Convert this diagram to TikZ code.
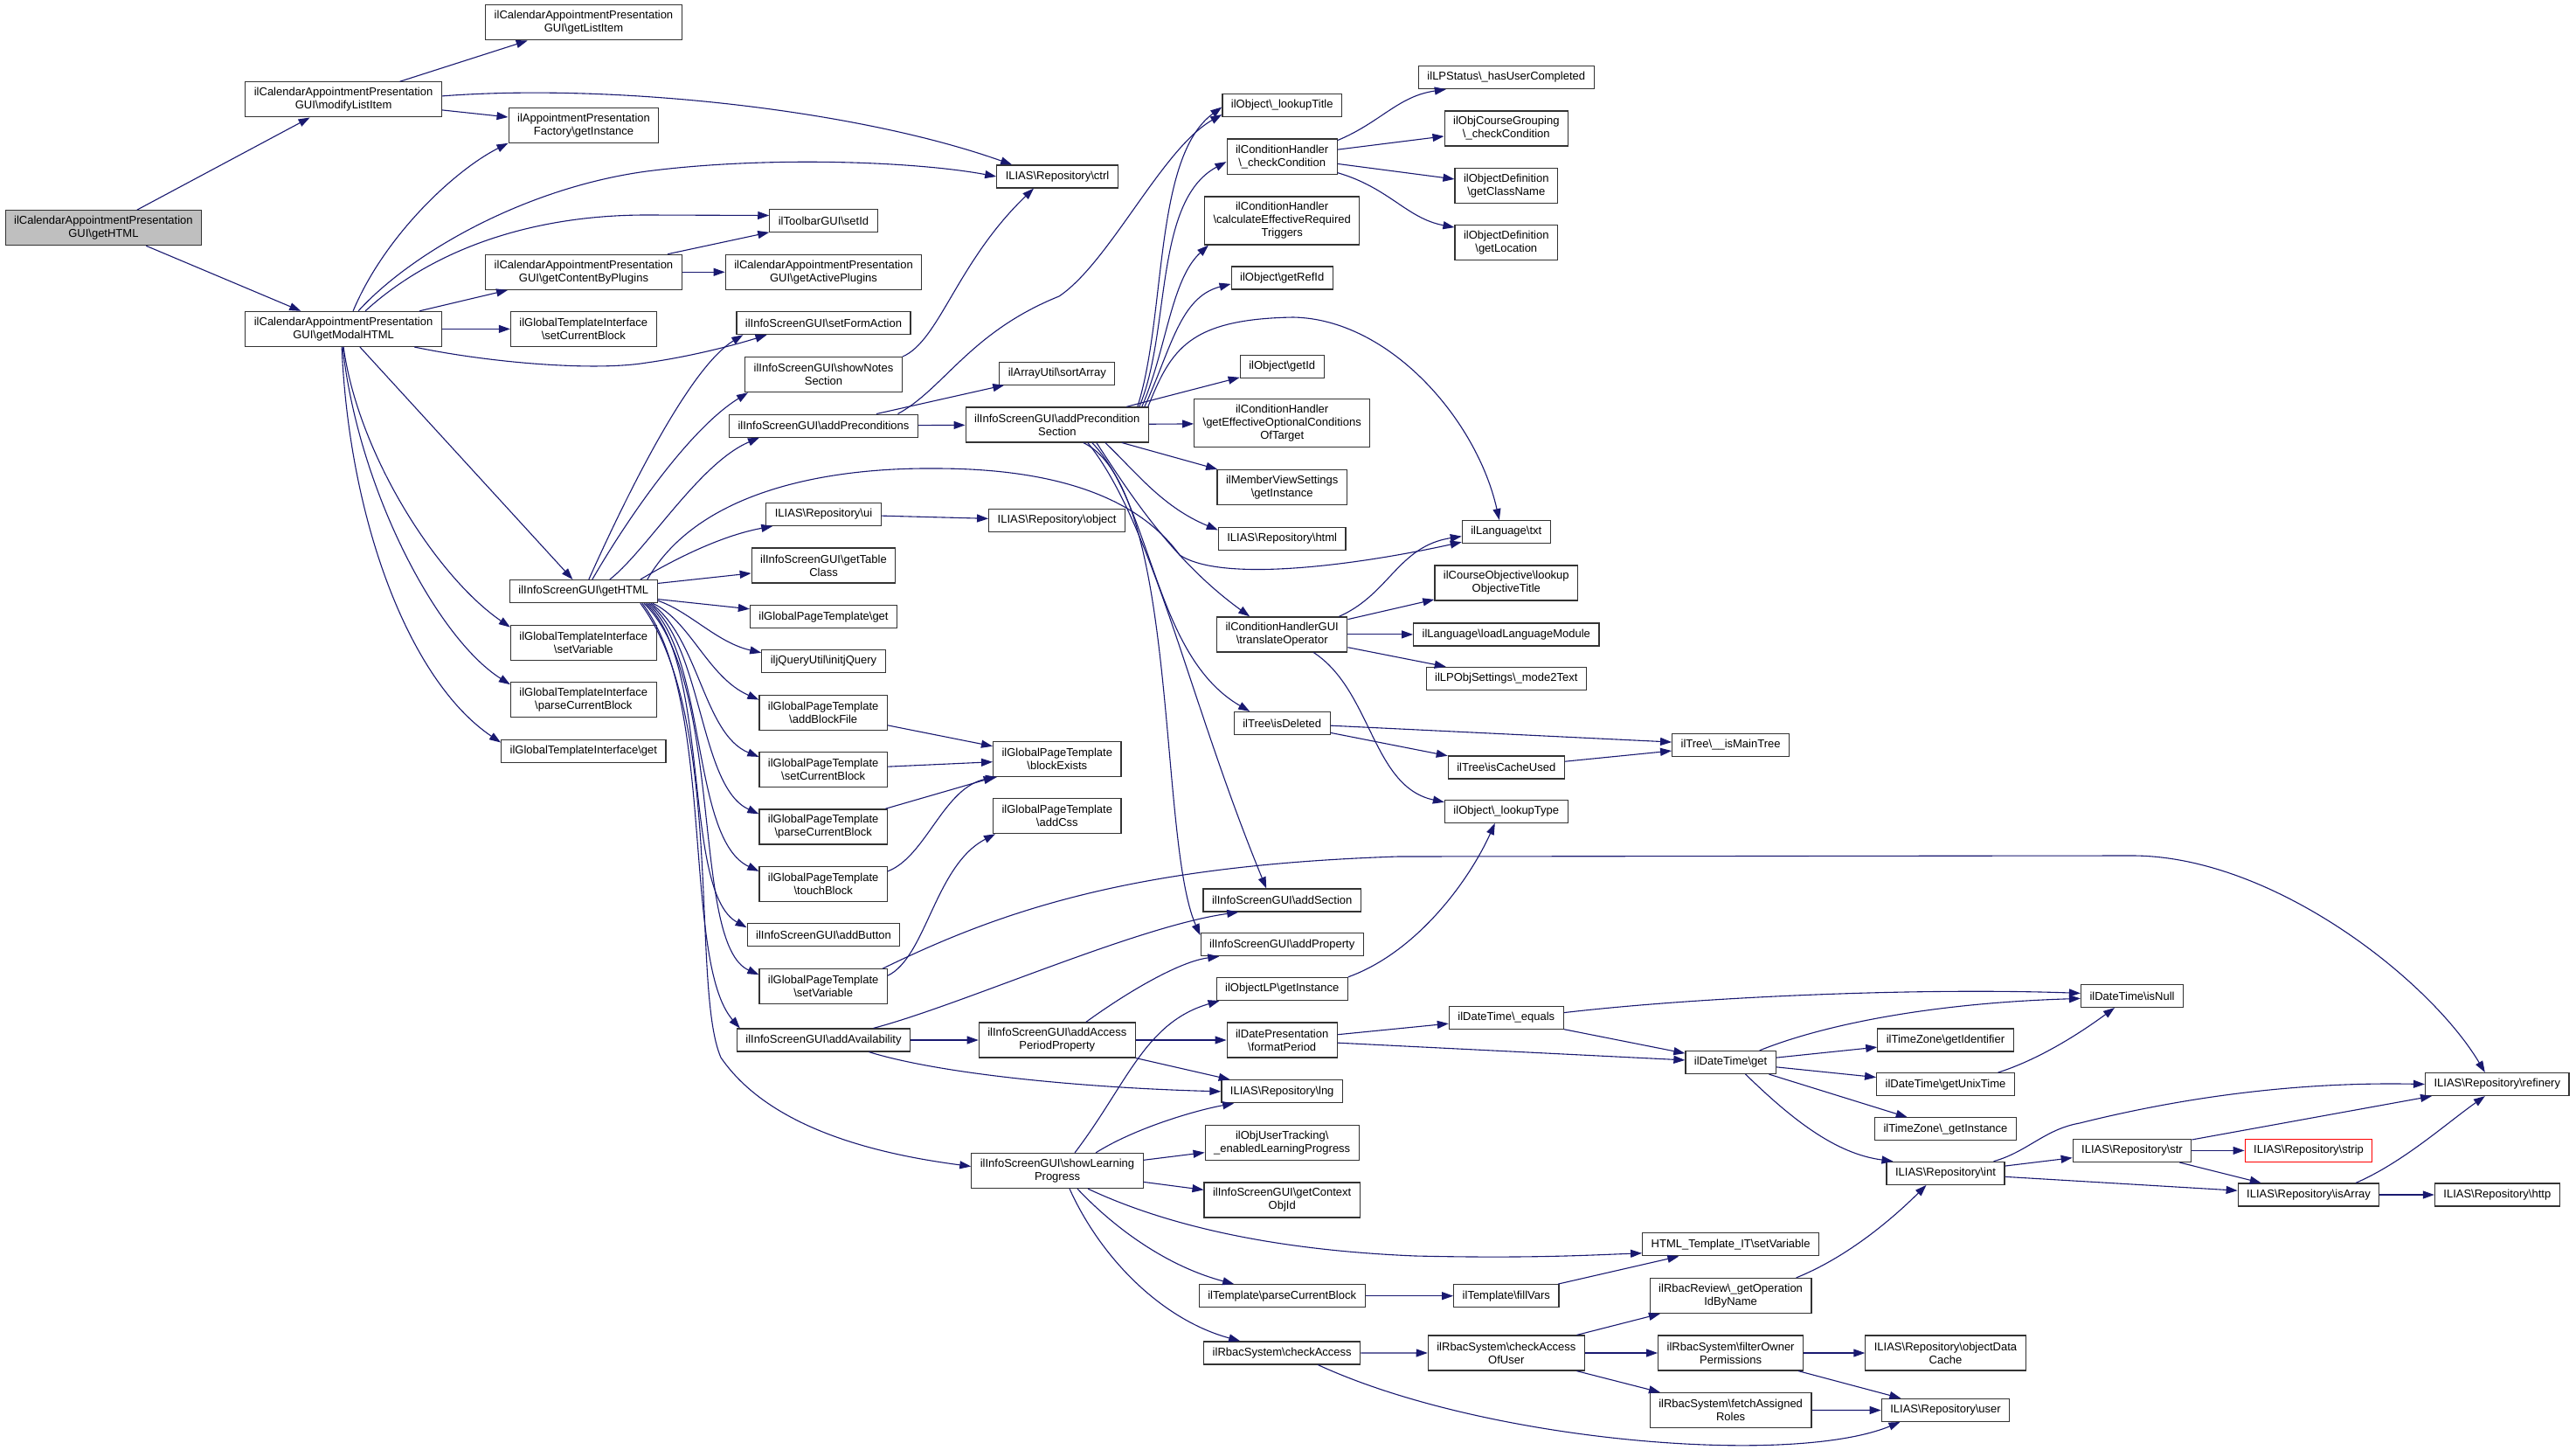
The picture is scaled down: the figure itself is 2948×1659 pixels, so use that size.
\documentclass[tikz,border=0pt]{standalone}
\usepackage{fontspec}
\setmainfont{Liberation Sans}
\usepackage{tikz}
\usetikzlibrary{arrows.meta}
\usepackage{xcolor}
\definecolor{edgeblue}{HTML}{191970}
\definecolor{boxgray}{HTML}{BFBFBF}
\newcommand{\bsl}{\textbackslash}

\begin{document}
\begin{tikzpicture}[x=1pt, y=-1pt,
    fn/.style={draw=black!80, line width=1.2pt, fill=white, align=center, font=\fontsize{13}{15}\selectfont, inner xsep=10pt, inner ysep=2pt, minimum height=26pt},
    fn2/.style={fn, minimum height=40pt},
    fn3/.style={fn, minimum height=55pt},
    rootfn/.style={fn2, fill=boxgray},
    redfn/.style={fn, draw=red},
    call/.style={draw=edgeblue, line width=1.1pt, -{Triangle[length=13pt, width=9pt]}}]
        \useasboundingbox (0,0) rectangle (2948,1659);

        \node[rootfn] (root) at (118.4, 260.7) {ilCalendarAppointmentPresentation\\GUI\bsl{}getHTML};

        \node[fn2] (modifyListItem) at (393.1, 113.9) {ilCalendarAppointmentPresentation\\GUI\bsl{}modifyListItem};
        \node[fn2] (getModalHTML) at (393.1, 376.4) {ilCalendarAppointmentPresentation\\GUI\bsl{}getModalHTML};

        \node[fn2] (getListItem) at (668, 25.9) {ilCalendarAppointmentPresentation\\GUI\bsl{}getListItem};
        \node[fn2] (factory) at (668, 143.2) {ilAppointmentPresentation\\Factory\bsl{}getInstance};
        \node[fn2] (getContent) at (668, 311.3) {ilCalendarAppointmentPresentation\\GUI\bsl{}getContentByPlugins};
        \node[fn2] (tiSetBlock) at (667.8, 376.4) {ilGlobalTemplateInterface\\\bsl{}setCurrentBlock};
        \node[fn] (isHTML) at (667.8, 676.6) {ilInfoScreenGUI\bsl{}getHTML};
        \node[fn2] (tiSetVar) at (667.8, 735.2) {ilGlobalTemplateInterface\\\bsl{}setVariable};
        \node[fn2] (tiParse) at (667.8, 800.8) {ilGlobalTemplateInterface\\\bsl{}parseCurrentBlock};
        \node[fn] (tiGet) at (667.8, 859.1) {ilGlobalTemplateInterface\bsl{}get};

        \node[fn] (setId) at (942.5, 252.5) {ilToolbarGUI\bsl{}setId};
        \node[fn2] (getActive) at (942.5, 311.3) {ilCalendarAppointmentPresentation\\GUI\bsl{}getActivePlugins};
        \node[fn] (setForm) at (942.5, 369.6) {ilInfoScreenGUI\bsl{}setFormAction};
        \node[fn2] (showNotes) at (942.5, 428.6) {ilInfoScreenGUI\bsl{}showNotes\\Section};
        \node[fn] (addPrec) at (942.5, 487.1) {ilInfoScreenGUI\bsl{}addPreconditions};
        \node[fn] (ui) at (942.5, 588.4) {ILIAS\bsl{}Repository\bsl{}ui};
        \node[fn2] (getTableClass) at (942.5, 647) {ilInfoScreenGUI\bsl{}getTable\\Class};
        \node[fn] (gptGet) at (942.5, 705.7) {ilGlobalPageTemplate\bsl{}get};
        \node[fn] (initjQuery) at (942.5, 756.4) {iljQueryUtil\bsl{}initjQuery};
        \node[fn2] (addBlockFile) at (942.2, 815.2) {ilGlobalPageTemplate\\\bsl{}addBlockFile};
        \node[fn2] (gptSetBlock) at (942.2, 880.5) {ilGlobalPageTemplate\\\bsl{}setCurrentBlock};
        \node[fn2] (gptParse) at (942.2, 945.9) {ilGlobalPageTemplate\\\bsl{}parseCurrentBlock};
        \node[fn2] (touchBlock) at (942.2, 1011.4) {ilGlobalPageTemplate\\\bsl{}touchBlock};
        \node[fn] (addButton) at (942.5, 1069.8) {ilInfoScreenGUI\bsl{}addButton};
        \node[fn2] (gptSetVar) at (942.2, 1128.8) {ilGlobalPageTemplate\\\bsl{}setVariable};
        \node[fn] (addAvailability) at (942.5, 1190) {ilInfoScreenGUI\bsl{}addAvailability};

        \node[fn] (ctrl) at (1210, 202) {ILIAS\bsl{}Repository\bsl{}ctrl};
        \node[fn] (sortArray) at (1209.8, 427.1) {ilArrayUtil\bsl{}sortArray};
        \node[fn2] (aps) at (1209.8, 485.9) {ilInfoScreenGUI\bsl{}addPrecondition\\Section};
        \node[fn] (object) at (1209.6, 595.4) {ILIAS\bsl{}Repository\bsl{}object};
        \node[fn2] (blockExists) at (1209.8, 868.4) {ilGlobalPageTemplate\\\bsl{}blockExists};
        \node[fn2] (addCss) at (1209.8, 933.7) {ilGlobalPageTemplate\\\bsl{}addCss};
        \node[fn2] (aapp) at (1209.8, 1190) {ilInfoScreenGUI\bsl{}addAccess\\PeriodProperty};
        \node[fn2] (slp) at (1210, 1339.5) {ilInfoScreenGUI\bsl{}showLearning\\Progress};

        \node[fn] (lookupTitle) at (1467.2, 120.5) {ilObject\bsl\_lookupTitle};
        \node[fn2] (checkCond) at (1467.2, 179.1) {ilConditionHandler\\\bsl\_checkCondition};
        \node[fn3] (calcEff) at (1467.2, 252.5) {ilConditionHandler\\\bsl{}calculateEffectiveRequired\\Triggers};
        \node[fn] (getRefId) at (1467.2, 317.9) {ilObject\bsl{}getRefId};
        \node[fn] (getId) at (1467.2, 419.3) {ilObject\bsl{}getId};
        \node[fn3] (getEffOpt) at (1467.2, 484.3) {ilConditionHandler\\\bsl{}getEffectiveOptionalConditions\\OfTarget};
        \node[fn2] (memberView) at (1467.2, 557.5) {ilMemberViewSettings\\\bsl{}getInstance};
        \node[fn] (html) at (1467.2, 616.4) {ILIAS\bsl{}Repository\bsl{}html};
        \node[fn2] (translateOp) at (1467.2, 725.9) {ilConditionHandlerGUI\\\bsl{}translateOperator};
        \node[fn] (isDeleted) at (1467.2, 827.5) {ilTree\bsl{}isDeleted};
        \node[fn] (addSection) at (1467.2, 1030) {ilInfoScreenGUI\bsl{}addSection};
        \node[fn] (addProperty) at (1467.2, 1080.7) {ilInfoScreenGUI\bsl{}addProperty};
        \node[fn] (objectLP) at (1467.2, 1131.4) {ilObjectLP\bsl{}getInstance};
        \node[fn2] (formatPeriod) at (1467.2, 1190) {ilDatePresentation\\\bsl{}formatPeriod};
        \node[fn] (lng) at (1467.2, 1248.8) {ILIAS\bsl{}Repository\bsl{}lng};
        \node[fn2] (userTracking) at (1467.2, 1307.7) {ilObjUserTracking\bsl\\\_enabledLearningProgress};
        \node[fn2] (contextObjId) at (1467.2, 1373) {ilInfoScreenGUI\bsl{}getContext\\ObjId};
        \node[fn] (tplParse) at (1467.2, 1482.7) {ilTemplate\bsl{}parseCurrentBlock};
        \node[fn] (checkAccess) at (1467.2, 1547.9) {ilRbacSystem\bsl{}checkAccess};

        \node[fn] (hasUser) at (1723.8, 88.6) {ilLPStatus\bsl\_hasUserCompleted};
        \node[fn2] (courseGrouping) at (1723.8, 147) {ilObjCourseGrouping\\\bsl\_checkCondition};
        \node[fn2] (getClassName) at (1723.8, 212.7) {ilObjectDefinition\\\bsl{}getClassName};
        \node[fn2] (getLocation) at (1723.8, 277.7) {ilObjectDefinition\\\bsl{}getLocation};
        \node[fn] (txt) at (1723.8, 608.6) {ilLanguage\bsl{}txt};
        \node[fn2] (courseObj) at (1723.8, 667) {ilCourseObjective\bsl{}lookup\\ObjectiveTitle};
        \node[fn] (loadLang) at (1723.8, 725.9) {ilLanguage\bsl{}loadLanguageModule};
        \node[fn] (mode2Text) at (1723.8, 776.4) {ilLPObjSettings\bsl\_mode2Text};
        \node[fn] (isCacheUsed) at (1723.8, 877.9) {ilTree\bsl{}isCacheUsed};
        \node[fn] (lookupType) at (1723.8, 928.4) {ilObject\bsl\_lookupType};
        \node[fn] (equals) at (1723.8, 1164.6) {ilDateTime\bsl\_equals};
        \node[fn] (fillVars) at (1723.8, 1482.7) {ilTemplate\bsl{}fillVars};
        \node[fn2] (checkAccessOfUser) at (1723.8, 1548) {ilRbacSystem\bsl{}checkAccess\\OfUser};

        \node[fn] (isMainTree) at (1980.6, 852.3) {ilTree\bsl\_\_isMainTree};
        \node[fn] (dtGet) at (1980.6, 1215.5) {ilDateTime\bsl{}get};
        \node[fn] (htmlSetVar) at (1980.6, 1423.8) {HTML\_Template\_IT\bsl{}setVariable};
        \node[fn2] (getOp) at (1980.6, 1482.5) {ilRbacReview\bsl\_getOperation\\IdByName};
        \node[fn2] (filterOwner) at (1980.6, 1548) {ilRbacSystem\bsl{}filterOwner\\Permissions};
        \node[fn2] (fetchAssigned) at (1980.6, 1613.6) {ilRbacSystem\bsl{}fetchAssigned\\Roles};

        \node[fn] (getIdentifier) at (2226.5, 1190) {ilTimeZone\bsl{}getIdentifier};
        \node[fn] (getUnixTime) at (2226.5, 1240.7) {ilDateTime\bsl{}getUnixTime};
        \node[fn] (tzInstance) at (2226.5, 1291.8) {ilTimeZone\bsl\_getInstance};
        \node[fn] (int) at (2226.5, 1342.3) {ILIAS\bsl{}Repository\bsl{}int};
        \node[fn2] (objectDataCache) at (2226.5, 1548) {ILIAS\bsl{}Repository\bsl{}objectData\\Cache};
        \node[fn] (user) at (2226.5, 1613.4) {ILIAS\bsl{}Repository\bsl{}user};

        \node[fn] (isNull) at (2440, 1139.4) {ilDateTime\bsl{}isNull};
        \node[fn] (str) at (2440, 1316.4) {ILIAS\bsl{}Repository\bsl{}str};
        \node[redfn] (strip) at (2642, 1316.4) {ILIAS\bsl{}Repository\bsl{}strip};
        \node[fn] (isArray) at (2642, 1367) {ILIAS\bsl{}Repository\bsl{}isArray};
        \node[fn] (refinery) at (2857.8, 1240.5) {ILIAS\bsl{}Repository\bsl{}refinery};
        \node[fn] (http) at (2857.8, 1367) {ILIAS\bsl{}Repository\bsl{}http};

        \draw[call] (root) -- (modifyListItem);
        \draw[call] (root) -- (getModalHTML);

        \draw[call] (modifyListItem) -- (getListItem);
        \draw[call] (modifyListItem) -- (factory);
        \draw[call] ([yshift=4pt]modifyListItem.east) .. controls (700,95) and (980,125) .. ([xshift=18pt]ctrl.north west);

        \draw[call] ([xshift=11pt]getModalHTML.north) .. controls (440,270) and (520,195) .. (factory.south west);
        \draw[call] ([xshift=17pt]getModalHTML.north) .. controls (470,290) and (600,215) .. (740,196) .. controls (880,178) and (1050,185) .. (ctrl.west);
        \draw[call] ([xshift=25pt]getModalHTML.north) .. controls (490,290) and (600,246) .. (740,246) -- ([yshift=6pt]setId.west);
        \draw[call] (getModalHTML) -- (getContent);
        \draw[call] (getModalHTML) -- (tiSetBlock);
        \draw[call] ([xshift=81pt]getModalHTML.south) .. controls (560,415) and (680,425) .. (740,415) .. controls (790,408) and (840,395) .. ([xshift=-65pt]setForm.south);
        \draw[call] (getModalHTML) -- (isHTML);
        \draw[call] (getModalHTML.south) .. controls (410,520) and (500,660) .. ([yshift=-3pt]tiSetVar.north west);
        \draw[call] ([xshift=-1pt]getModalHTML.south) .. controls (410,560) and (500,730) .. ([yshift=-3pt]tiParse.north west);
        \draw[call] ([xshift=-2pt]getModalHTML.south) .. controls (400,600) and (470,780) .. ([yshift=-4pt]tiGet.north west);

        \draw[call] (getContent) -- (setId);
        \draw[call] (getContent) -- (getActive);

        \draw[call] ([xshift=6pt]isHTML.north) .. controls (720,560) and (790,420) .. ([xshift=8pt]setForm.south west);
        \draw[call] ([xshift=10pt]isHTML.north) .. controls (720,590) and (790,490) .. ([xshift=4pt]showNotes.south west);
        \draw[call] ([xshift=30pt]isHTML.north) .. controls (740,630) and (800,530) .. ([xshift=35pt]addPrec.south west);
        \draw[call] ([xshift=-20pt]isHTML.north east) .. controls (780,635) and (830,612) .. ([xshift=8pt]ui.south west);
        \draw[call] ([xshift=-12pt]isHTML.north east) .. controls (800,560) and (950,535) .. (1070,536) .. controls (1230,536) and (1310,580) .. (1350,635) .. controls (1400,668) and (1560,645) .. ([yshift=2pt]txt.south west);
        \draw[call] (isHTML) -- (getTableClass);
        \draw[call] (isHTML) -- (gptGet);
        \draw[call] ([yshift=3pt]isHTML.south east) .. controls (790,700) and (820,735) .. ([yshift=-4pt]initjQuery.north west);
        \draw[call] ([xshift=-6pt]isHTML.south east) .. controls (790,710) and (810,775) .. ([yshift=-6pt]addBlockFile.north west);
        \draw[call] ([xshift=-8pt]isHTML.south east) .. controls (800,730) and (805,840) .. ([yshift=-6pt]gptSetBlock.north west);
        \draw[call] ([xshift=-10pt]isHTML.south east) .. controls (805,740) and (800,900) .. ([yshift=-6pt]gptParse.north west);
        \draw[call] ([xshift=-12pt]isHTML.south east) .. controls (810,750) and (790,960) .. ([yshift=-6pt]touchBlock.north west);
        \draw[call] ([xshift=-14pt]isHTML.south east) .. controls (815,760) and (780,1020) .. ([yshift=-5pt]addButton.north west);
        \draw[call] ([xshift=-16pt]isHTML.south east) .. controls (830,780) and (790,1080) .. ([yshift=-7pt]gptSetVar.north west);
        \draw[call] ([xshift=-18pt]isHTML.south east) .. controls (820,800) and (780,1100) .. ([xshift=4pt]addAvailability.north west);
        \draw[call] ([xshift=-20pt]isHTML.south east) .. controls (830,820) and (790,1130) .. (825,1210) .. controls (880,1290) and (1000,1320) .. ([yshift=5pt]slp.west);

        \draw[call] (ui) -- (object);
        \draw[call] (showNotes.north east) .. controls (1075,390) and (1095,300) .. ([xshift=-27pt]ctrl.south);
        \draw[call] (addPrec) -- (sortArray);
        \draw[call] (addPrec) -- (aps);
        \draw[call] ([xshift=85pt]addPrec.north) .. controls (1080,445) and (1110,380) .. (1212,339) .. controls (1270,300) and (1330,170) .. ([yshift=3pt]lookupTitle.south west);

        \draw[call] ([xshift=92pt]aps.north) .. controls (1335,360) and (1320,180) .. ([yshift=-2pt]lookupTitle.west);
        \draw[call] ([xshift=94pt]aps.north) .. controls (1340,380) and (1320,230) .. ([yshift=-6pt]checkCond.west);
        \draw[call] ([xshift=97pt]aps.north) .. controls (1335,400) and (1340,320) .. ([xshift=5pt]calcEff.south west);
        \draw[call] ([xshift=100pt]aps.north) .. controls (1340,400) and (1350,340) .. ([yshift=-7pt]getRefId.west);
        \draw[call] ([xshift=104pt]aps.north) .. controls (1340,400) and (1360,365) .. (1480,363) .. controls (1590,365) and (1690,480) .. ([xshift=-8pt]txt.north);
        \draw[call] (aps) -- (getId);
        \draw[call] (aps) -- (getEffOpt);
        \draw[call] (aps) -- (memberView);
        \draw[call] ([xshift=55pt]aps.south) .. controls (1300,540) and (1330,580) .. ([yshift=10pt]html.west);
        \draw[call] ([xshift=45pt]aps.south) .. controls (1290,560) and (1340,640) .. ([xshift=-37pt]translateOp.north);
        \draw[call] ([xshift=40pt]aps.south) .. controls (1320,580) and (1320,750) .. ([xshift=-37pt]isDeleted.north);
        \draw[call] ([xshift=35pt]aps.south) .. controls (1320,600) and (1360,800) .. ([xshift=-18pt]addSection.north);
        \draw[call] ([xshift=30pt]aps.south) .. controls (1350,560) and (1325,960) .. ([yshift=-3pt]addProperty.north west);

        \draw[call] ([yshift=-2pt]checkCond.north east) .. controls (1580,140) and (1600,110) .. ([xshift=-69pt]hasUser.south);
        \draw[call] (checkCond) -- (courseGrouping);
        \draw[call] (checkCond) -- (getClassName);
        \draw[call] ([yshift=2pt]checkCond.south east) .. controls (1590,215) and (1610,250) .. ([yshift=-3pt]getLocation.north west);

        \draw[call] ([xshift=-10pt]translateOp.north east) .. controls (1590,680) and (1600,625) .. ([yshift=-5pt]txt.west);
        \draw[call] (translateOp) -- (courseObj);
        \draw[call] (translateOp) -- (loadLang);
        \draw[call] (translateOp) -- (mode2Text);
        \draw[call] ([xshift=36pt]translateOp.south) .. controls (1570,790) and (1570,900) .. ([yshift=-3pt]lookupType.north west);

        \draw[call] (isDeleted) -- (isMainTree);
        \draw[call] (isDeleted) -- (isCacheUsed);
        \draw[call] (isCacheUsed) -- (isMainTree);
        \draw[call] (objectLP.north east) .. controls (1620,1090) and (1680,1010) .. ([xshift=-13pt]lookupType.south);

        \draw[call] (addAvailability) -- (aapp);
        \draw[call] ([xshift=57pt]addAvailability.north) .. controls (1100,1150) and (1300,1060) .. ([xshift=-50pt]addSection.south);
        \draw[call] ([xshift=52pt]addAvailability.south) .. controls (1080,1230) and (1250,1245) .. (lng.west);
        \draw[call] ([xshift=33pt]aapp.north) .. controls (1290,1135) and (1350,1100) .. ([xshift=-72pt]addProperty.south);
        \draw[call] (aapp) -- (formatPeriod);
        \draw[call] (aapp) -- (lng);

        \draw[call] ([xshift=20pt]slp.north) .. controls (1290,1240) and (1310,1170) .. ([xshift=4pt]objectLP.south west);
        \draw[call] ([xshift=44pt]slp.north) .. controls (1300,1290) and (1370,1270) .. ([xshift=-55pt]lng.south);
        \draw[call] (slp) -- (userTracking);
        \draw[call] (slp) -- (contextObjId);
        \draw[call] ([xshift=35pt]slp.south) .. controls (1330,1400) and (1450,1430) .. (1620,1437) .. controls (1750,1440) and (1820,1436) .. ([yshift=-10pt]htmlSetVar.west);
        \draw[call] ([xshift=23pt]slp.south) .. controls (1280,1410) and (1340,1450) .. ([xshift=-55pt]tplParse.north);
        \draw[call] ([xshift=14pt]slp.south) .. controls (1260,1440) and (1330,1510) .. ([xshift=-48pt]checkAccess.north);

        \draw[call] (tplParse) -- (fillVars);
        \draw[call] (fillVars) -- (htmlSetVar);
        \draw[call] (checkAccess) -- (checkAccessOfUser);
        \draw[call] ([xshift=41pt]checkAccess.south) .. controls (1700,1650) and (2050,1678) .. ([xshift=-52pt]user.south);
        \draw[call] (checkAccessOfUser) -- (getOp);
        \draw[call] (checkAccessOfUser) -- (filterOwner);
        \draw[call] (checkAccessOfUser) -- (fetchAssigned);
        \draw[call] (filterOwner) -- (objectDataCache);
        \draw[call] (filterOwner) -- (user);
        \draw[call] (fetchAssigned) -- (user);
        \draw[call] ([xshift=75pt]getOp.north) .. controls (2110,1440) and (2160,1400) .. ([xshift=-22pt]int.south);

        \draw[call] (formatPeriod) -- (equals);
        \draw[call] (formatPeriod) -- (dtGet);
        \draw[call] ([yshift=6pt]equals.east) .. controls (1950,1140) and (2200,1130) .. ([yshift=3pt]isNull.west);
        \draw[call] (equals) -- (dtGet);
        \draw[call] ([xshift=33pt]dtGet.north) .. controls (2080,1175) and (2200,1148) .. ([yshift=-3pt]isNull.west);
        \draw[call] (dtGet) -- (getIdentifier);
        \draw[call] (dtGet) -- (getUnixTime);
        \draw[call] (dtGet) -- (tzInstance);
        \draw[call] ([xshift=17pt]dtGet.south) .. controls (2050,1280) and (2100,1320) .. ([xshift=8pt]int.north west);
        \draw[call] ([xshift=60pt]getUnixTime.north) .. controls (2340,1210) and (2390,1175) .. ([xshift=-20pt]isNull.south);

        \draw[call] ([xshift=55pt]int.north) .. controls (2320,1318) and (2340,1292) .. (2380,1285) .. controls (2520,1250) and (2650,1238) .. (refinery.west);
        \draw[call] (int) -- (str);
        \draw[call] (int) -- (isArray);
        \draw[call] (str) -- (refinery);
        \draw[call] (str) -- (strip);
        \draw[call] (str) -- (isArray);
        \draw[call] ([xshift=54pt]isArray.north) .. controls (2750,1330) and (2800,1285) .. ([xshift=-14pt]refinery.south);
        \draw[call] (isArray) -- (http);

        \draw[call] (addBlockFile) -- (blockExists);
        \draw[call] (gptSetBlock) -- (blockExists);
        \draw[call] (gptParse) -- (blockExists);
        \draw[call] ([yshift=-6pt]touchBlock.north east) .. controls (1060,980) and (1080,900) .. ([xshift=5pt]blockExists.south west);
        \draw[call] ([yshift=-8pt]gptSetVar.north east) .. controls (1060,1095) and (1070,990) .. ([xshift=3pt]addCss.south west);
        \draw[call] ([xshift=-6pt]gptSetVar.north east) .. controls (1150,1040) and (1300,990) .. (1600,980) -- (2440,979) .. controls (2600,979) and (2780,1120) .. ([xshift=-14pt]refinery.north);
    \end{tikzpicture}
\end{document}
